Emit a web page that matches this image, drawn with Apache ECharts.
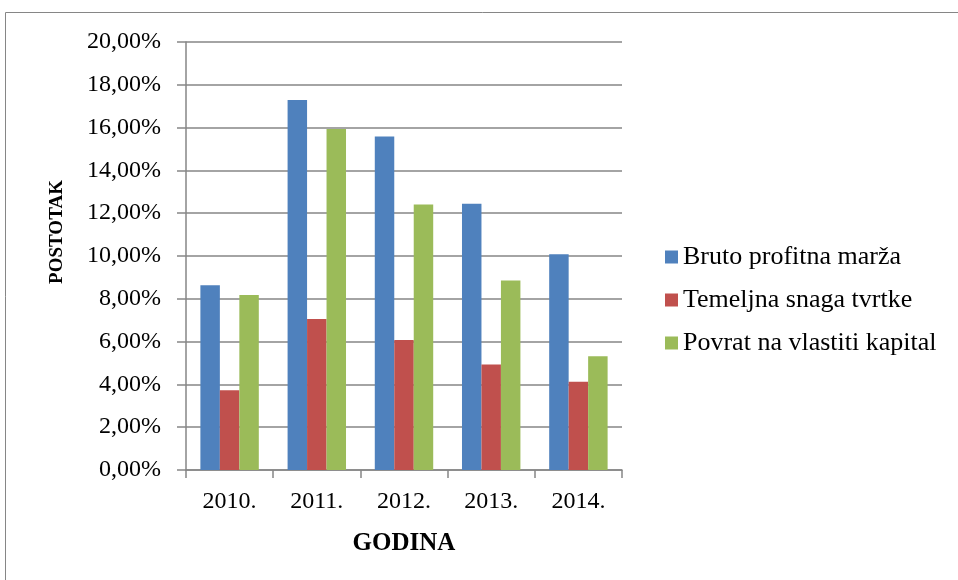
<!DOCTYPE html>
<html>
<head>
	<meta charset="utf-8">
	<title>ECharts</title>
	<script src="https://cdn.jsdelivr.net/npm/echarts@6/dist/echarts.min.js"></script>
	<style type="text/css">
		html, body {
			height: 100%;
			margin: 0;
			background: #fff;
		}
	</style>
</head>
<body>
	<div id="main" style="width: 958px;height:580px;"></div>
	<script type="text/javascript">
	// podaci sa slike
	var godine = ['2010.', '2011.', '2012.', '2013.', '2014.'];
	var brutoMarza = [8.63, 17.29, 15.58, 12.44, 10.08];
	var temeljnaSnaga = [3.73, 7.06, 6.07, 4.93, 4.12];
	var povratKapital = [8.18, 15.93, 12.41, 8.86, 5.32];
	var nazivi = ['Bruto profitna marža', 'Temeljna snaga tvrtke', 'Povrat na vlastiti kapital'];

	var font = 'Liberation Serif';
	var sivo = '#868686';

	var myChart = echarts.init(document.getElementById('main'));
	var option = {
		animation: false,
		textStyle: { fontFamily: font },
		graphic: [{
			type: 'rect',
			shape: { x: 5.5, y: 12.5, width: 970, height: 600 },
			style: { fill: 'none', stroke: sivo, lineWidth: 1 }
		}, {
			// naziv y osi (malo iznad sredine kao na slici)
			type: 'text',
			x: 57,
			y: 232,
			rotation: Math.PI / 2,
			style: {
				text: 'POSTOTAK',
				font: 'bold 19px "Liberation Serif"',
				fill: '#000',
				textAlign: 'center',
				textVerticalAlign: 'middle'
			}
		}],
		grid: {
			left: 186,
			right: 336,
			top: 42,
			bottom: 110
		},
		legend: {
			orient: 'vertical',
			left: 660,
			top: 239,
			itemWidth: 13,
			itemHeight: 13,
			itemGap: 17,
			icon: 'rect',
			data: nazivi,
			textStyle: { fontFamily: font, fontSize: 26, color: '#000' }
		},
		xAxis: {
			type: 'category',
			data: godine,
			name: 'GODINA',
			nameLocation: 'middle',
			nameGap: 61,
			nameTextStyle: { fontFamily: font, fontSize: 25, fontWeight: 'bold', color: '#000' },
			axisLine: { lineStyle: { color: sivo, width: 1.5 } },
			axisTick: { show: true, length: 8, lineStyle: { color: sivo, width: 1.5 } },
			axisLabel: { fontFamily: font, fontSize: 24, color: '#000', margin: 20 }
		},
		yAxis: {
			type: 'value',
			min: 0,
			max: 20,
			interval: 2,
			axisLine: { show: true, lineStyle: { color: sivo, width: 1.5 } },
			axisTick: { show: true, length: 9, lineStyle: { color: sivo, width: 1.5 } },
			axisLabel: {
				fontFamily: font, fontSize: 24, color: '#000', margin: 25,
				formatter: function (v) {
					return v.toFixed(2).replace('.', ',') + '%';
				}
			},
			splitLine: { show: true, lineStyle: { color: sivo, width: 1.5 } }
		},
		series: [{
			name: nazivi[0],
			type: 'bar',
			data: brutoMarza,
			barGap: '0%',
			barCategoryGap: '33%',
			itemStyle: { color: '#4F81BD' }
		}, {
			name: nazivi[1],
			type: 'bar',
			data: temeljnaSnaga,
			itemStyle: { color: '#C0504D' }
		}, {
			name: nazivi[2],
			type: 'bar',
			data: povratKapital,
			itemStyle: { color: '#9BBB59' }
		}]
	};
	myChart.setOption(option);
	</script>
</body>
</html>
